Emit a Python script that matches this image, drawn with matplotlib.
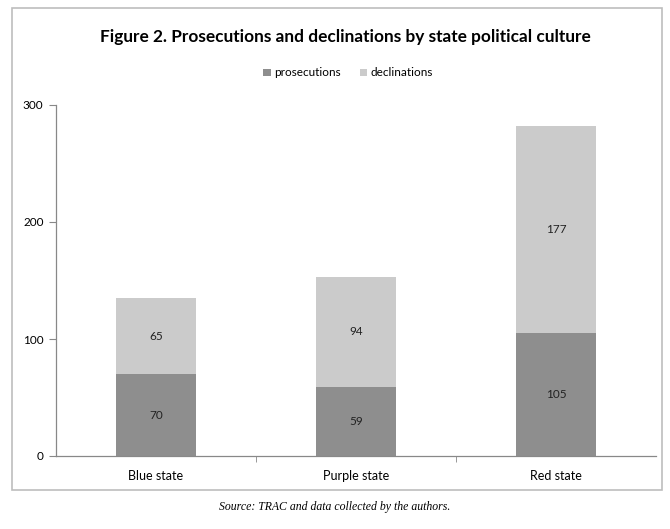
import matplotlib
matplotlib.use("Agg")
import matplotlib.pyplot as plt
from matplotlib.patches import Rectangle
import numpy as np

categories = ["Blue state", "Purple state", "Red state"]
prosecutions = [70, 59, 105]
declinations = [65, 94, 177]
yticks = [0, 100, 200, 300]

plt.rcParams['font.family'] = ['Lato', 'DejaVu Sans']

fig = plt.figure(figsize=(6.7, 5.29), dpi=100)
fig.patch.set_facecolor('white')

# outer chart frame
fig.patches.append(Rectangle((12/670, 1-490/529), 650/670, 482/529,
                             transform=fig.transFigure, fill=False,
                             edgecolor='#bdbdbd', linewidth=1.2))

ax = fig.add_axes([56/670, 1-456/529, 600/670, 351/529])
x = np.arange(len(categories))
c_pro = '#8e8e8e'
c_dec = '#cbcbcb'
w = 0.4
b1 = ax.bar(x, prosecutions, w, color=c_pro, label='prosecutions')
b2 = ax.bar(x, declinations, w, bottom=prosecutions, color=c_dec, label='declinations')

for i in range(len(categories)):
    ax.text(x[i], prosecutions[i] / 2, str(prosecutions[i]), ha='center', va='center',
            fontsize=8.5, color='#222222')
    ax.text(x[i], prosecutions[i] + declinations[i] / 2, str(declinations[i]),
            ha='center', va='center', fontsize=8.5, color='#222222')

ax.set_xlim(-0.5, len(categories) - 0.5)
ax.set_ylim(0, 300)
ax.set_yticks(yticks)
ax.set_yticklabels([str(t) for t in yticks], fontsize=8.5)
ax.set_xticks(x)
ax.set_xticklabels(categories, fontsize=9)
ax.tick_params(axis='x', length=0, pad=10)
ax.set_xticks(np.arange(len(categories) + 1)[1:-1] - 0.5, minor=True)
ax.tick_params(axis='x', which='minor', length=4, color='#888888')
ax.tick_params(axis='y', length=5, color='#888888', pad=4)
for s in ['top', 'right']:
    ax.spines[s].set_visible(False)
for s in ['left', 'bottom']:
    ax.spines[s].set_color('#888888')
    ax.spines[s].set_linewidth(0.9)

fig.text(345/670, 1-37/529, "Figure 2. Prosecutions and declinations by state political culture",
         ha='center', va='center', fontsize=12.4, fontweight='bold')
fig.legend(handles=[b1, b2], loc='center', bbox_to_anchor=(348/670, 1-73/529),
           ncol=2, frameon=False, fontsize=8.5, handlelength=0.6, handleheight=0.6,
           handletextpad=0.3, columnspacing=1.6)
fig.text(0.5, 1-507/529, "Source: TRAC and data collected by the authors.",
         ha='center', va='center', fontsize=8.5, style='italic',
         family=['Liberation Serif', 'DejaVu Serif'])

fig.savefig('out.png', dpi=100)
